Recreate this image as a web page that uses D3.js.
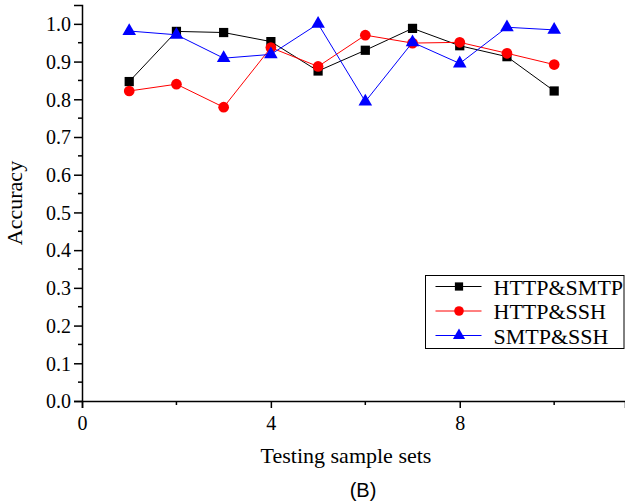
<!DOCTYPE html>
<html>
<head>
<meta charset="utf-8">
<script src="https://cdn.jsdelivr.net/npm/d3@7"></script>
<style>
  body { margin: 0; background: #fff; }
  svg { display: block; }
  .serif { font-family: "Liberation Serif", "Times New Roman", serif; }
</style>
</head>
<body>
<svg id="chart"></svg>
<script>
// data
const sets = [1, 2, 3, 4, 5, 6, 7, 8, 9, 10]
const httpSmtp = [0.847, 0.980, 0.977, 0.953, 0.875, 0.930, 0.988, 0.942, 0.913, 0.822]
const httpSsh  = [0.822, 0.840, 0.779, 0.937, 0.887, 0.970, 0.949, 0.951, 0.922, 0.892]
const smtpSsh  = [0.981, 0.971, 0.909, 0.919, 1.000, 0.794, 0.951, 0.895, 0.991, 0.984]
const seriesNames = ['HTTP&SMTP', 'HTTP&SSH', 'SMTP&SSH']
const xTicks = [0, 4, 8]
const xMinor = [2, 6, 10]
const yTicks = [0, 0.1, 0.2, 0.3, 0.4, 0.5, 0.6, 0.7, 0.8, 0.9, 1.0]

const w = 625
const h = 502
const svg = d3.select('#chart').attr('width', w).attr('height', h)

// plot area
const pLeft = 82, pRight = 625, pTop = 5, pBottom = 401
const xScale = d3.scaleLinear().domain([0, 11.5]).range([pLeft, pRight])
const yScale = d3.scaleLinear().domain([0, 1.05]).range([pBottom, pTop])

// y axis
const yAxis = d3.axisLeft(yScale).tickValues(yTicks).tickFormat(d3.format('.1f')).tickSizeOuter(0).tickSize(8).tickPadding(3)
const gy = svg.append('g').attr('transform', `translate(${pLeft},0)`).call(yAxis)
gy.selectAll('text').attr('class', 'serif').style('font-size', '20px').attr('fill', '#000').attr('dy', '0.34em')
gy.select('.domain').attr('stroke-width', 1.5)
gy.selectAll('.tick line').attr('stroke-width', 1.5)
const yMinor = d3.range(0.05, 1.05, 0.1)
gy.selectAll('.minor').data(yMinor).join('line')
  .attr('x1', -4).attr('x2', 0)
  .attr('y1', d => yScale(d)).attr('y2', d => yScale(d))
  .attr('stroke', '#000').attr('stroke-width', 1.5)

// x axis
const xAxis = d3.axisBottom(xScale).tickValues(xTicks).tickFormat(d3.format('d')).tickSizeOuter(0).tickSize(7).tickPadding(8)
const gx = svg.append('g').attr('transform', `translate(0,${pBottom})`).call(xAxis)
gx.selectAll('text').attr('class', 'serif').style('font-size', '20px').attr('fill', '#000')
gx.select('.domain').attr('stroke-width', 1.5)
gx.selectAll('.tick line').attr('stroke-width', 1.5)
gx.selectAll('.minor').data(xMinor).join('line')
  .attr('x1', d => xScale(d)).attr('x2', d => xScale(d))
  .attr('y1', 0).attr('y2', 4)
  .attr('stroke', '#000').attr('stroke-width', 1.5)

// axis titles
svg.append('text')
  .attr('class', 'serif')
  .attr('transform', 'translate(22,203) rotate(-90)')
  .attr('text-anchor', 'middle')
  .style('font-size', '22px')
  .text('Accuracy')
svg.append('text')
  .attr('class', 'serif')
  .attr('x', 346).attr('y', 463)
  .attr('text-anchor', 'middle')
  .style('font-size', '22px')
  .text('Testing sample sets')
svg.append('text')
  .attr('x', 363).attr('y', 497)
  .attr('text-anchor', 'middle')
  .style('font-family', '"Liberation Sans", Arial, sans-serif').style('font-size', '20px')
  .text('(B)')

// series
const series = [
  { name: seriesNames[0], values: httpSmtp, color: '#000000', shape: d3.symbolSquare, size: 85 },
  { name: seriesNames[1], values: httpSsh, color: '#ff0000', shape: d3.symbolCircle, size: 90 },
  { name: seriesNames[2], values: smtpSsh, color: '#0000ff', shape: d3.symbolTriangle, size: 80 }
]

const line = d3.line().x(d => xScale(d[0])).y(d => yScale(d[1]))

series.forEach(s => {
  const pts = sets.map((x, i) => [x, s.values[i]])
  svg.append('path')
    .attr('d', line(pts))
    .attr('fill', 'none')
    .attr('stroke', s.color)
    .attr('stroke-width', 1)
  svg.append('g').selectAll('path').data(pts).join('path')
    .attr('transform', d => `translate(${xScale(d[0])},${yScale(d[1])})`)
    .attr('d', d3.symbol().type(s.shape).size(s.size))
    .attr('fill', s.color)
})

// legend
const lg = svg.append('g').attr('transform', 'translate(425.5,275.5)')
lg.append('rect')
  .attr('width', 198.5).attr('height', 73)
  .attr('fill', '#fff').attr('stroke', '#000').attr('stroke-width', 1)
series.forEach((s, i) => {
  const yy = 11 + i * 24.5
  lg.append('line')
    .attr('x1', 10).attr('x2', 56).attr('y1', yy).attr('y2', yy)
    .attr('stroke', s.color).attr('stroke-width', 1)
  lg.append('path')
    .attr('transform', `translate(33.5,${yy})`)
    .attr('d', d3.symbol().type(s.shape).size(s.size * 0.8))
    .attr('fill', s.color)
  lg.append('text')
    .attr('class', 'serif')
    .attr('x', 68).attr('y', yy + 8)
    .style('font-size', '22px')
    .text(s.name)
})
</script>
</body>
</html>
